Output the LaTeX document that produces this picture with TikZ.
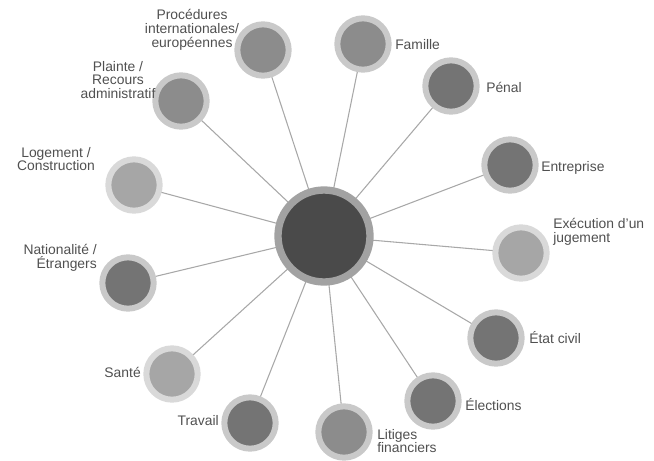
\documentclass[tikz,border=0pt]{standalone}
\usepackage{fontspec}
\setmainfont{Liberation Sans}
\usetikzlibrary{positioning,backgrounds}

\definecolor{ringgrey}{HTML}{C9C9C9}
\definecolor{coregrey}{HTML}{8C8C8C}
\definecolor{darkcore}{HTML}{747474}
\definecolor{paleercore}{HTML}{A6A6A6}
\definecolor{hubcore}{HTML}{4A4A4A}
\definecolor{hubring}{HTML}{A2A2A2}
\definecolor{spoke}{HTML}{A8A8A8}
\definecolor{labelgrey}{HTML}{505050}

\begin{document}
\begin{tikzpicture}[
  x=0.75pt, y=-0.75pt,
  hub/.style={
    circle, draw=hubring, fill=hubcore, line width=5.5pt,
    minimum size=69pt, inner sep=0pt
  },
  sat/.style={
    circle, draw=ringgrey, fill=coregrey, line width=4.5pt,
    minimum size=38.5pt, inner sep=0pt
  },
  satdark/.style={sat, fill=darkcore},
  satpale/.style={sat, fill=paleercore, draw=ringgrey!70},
  lbl/.style={
    inner sep=0pt, text=labelgrey,
    font=\fontsize{10.4}{10.4}\selectfont
  },
  spokeline/.style={draw=spoke, line width=0.8pt}
]
\useasboundingbox (0,0) rectangle (654,461);

% Noeuds
\node[hub] (centre) at (324,236) {};

\node[sat]     (proc)  at (263,50)  {};
\node[sat]     (fam)   at (363,44)  {};
\node[satdark] (pen)   at (451,86)  {};
\node[satdark] (entr)  at (510,165) {};
\node[satpale] (exec)  at (521,253) {};
\node[satdark] (etat)  at (496,338) {};
\node[satdark] (elec)  at (433,401) {};
\node[sat]     (lit)   at (344,432) {};
\node[satdark] (trav)  at (250,423) {};
\node[satpale] (sante) at (172,374) {};
\node[satdark] (nat)   at (128,283) {};
\node[satpale] (loge)  at (134,185) {};
\node[sat]     (plain) at (181,101) {};

% Etiquettes
\node[lbl, align=center] (procL) at (192,30) {Procédures\\internationales/\\européennes};
\node[lbl, anchor=west] (famL) at (395,45) {Famille};
\node[lbl, anchor=west] (penL) at (486,87) {Pénal};
\node[lbl, anchor=west] (entrL) at (541,168) {Entreprise};
\node[lbl, anchor=west, align=left] (execL) at (553,232) {Exécution d'un\\jugement};
\node[lbl, anchor=west] (etatL) at (529,338) {État civil};
\node[lbl, anchor=west] (elecL) at (465,405) {Élections};
\node[lbl, anchor=west, align=left] (litL) at (377,441) {Litiges\\financiers};
\node[lbl, anchor=east] (travL) at (219,421) {Travail};
\node[lbl, anchor=east] (santeL) at (141,372) {Santé};
\node[lbl, anchor=east, align=right] (natL) at (97,258) {Nationalité /\\Étrangers};
\node[lbl, align=center] (logeL) at (56,159) {Logement /\\Construction};
\node[lbl, align=center] (plainL) at (118,80) {Plainte /\\Recours\\administratif};

% Liaisons
\begin{scope}[on background layer]
  \foreach \s in {proc,fam,pen,entr,exec,etat,elec,lit,trav,sante,nat,loge,plain}
    \draw[spokeline] (centre.center) -- (\s.center);
\end{scope}

\end{tikzpicture}
\end{document}
